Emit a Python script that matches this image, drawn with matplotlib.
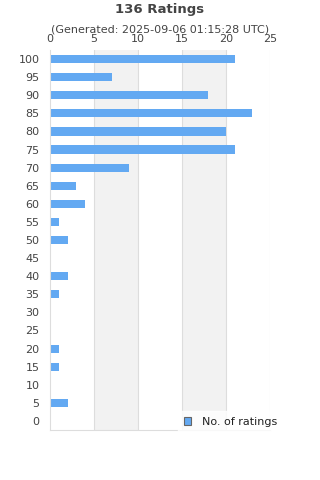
import numpy as np
import matplotlib
matplotlib.use("Agg")
from matplotlib import pyplot as plt
from matplotlib.patches import Patch

ratings = [0, 5, 10, 15, 20, 25, 30, 35, 40, 45, 50, 55, 60, 65, 70, 75, 80, 85, 90, 95, 100]
counts = [0, 2, 0, 1, 1, 0, 0, 1, 2, 0, 2, 1, 4, 3, 9, 21, 20, 23, 18, 7, 21]
x_ticks = [0, 5, 10, 15, 20, 25]

txt = '#444444'
grid_c = '#dddddd'
bar_c = '#63a9f2'

fig = plt.figure(figsize=(3.2, 4.8), dpi=100)
ax = fig.add_axes([50/320, 1-430/480, 220/320, 380/480])

pos = np.arange(len(ratings))
ax.set_xlim(0, 25)
ax.set_ylim(-0.5, len(ratings) - 0.5)

# alternating shaded bands
for i in range(len(x_ticks) - 1):
    if i % 2 == 1:
        ax.axvspan(x_ticks[i], x_ticks[i+1], color='#f2f2f2', zorder=0, lw=0)
for t in x_ticks[1:]:
    ax.axvline(t, color=grid_c, lw=0.8, zorder=1)

ax.barh(pos, counts, height=0.45, color=bar_c, zorder=2)

ax.set_yticks(pos)
ax.set_yticklabels([str(r) for r in ratings])
ax.set_xticks(x_ticks)
ax.xaxis.tick_top()
ax.tick_params(axis='both', length=0, labelsize=8, colors=txt)
ax.tick_params(axis='x', pad=4.5)
ax.tick_params(axis='y', pad=7.5)

for s in ['top', 'right']:
    ax.spines[s].set_visible(False)
ax.spines['left'].set_color(grid_c)
ax.spines['bottom'].set_color(grid_c)

fig.text(0.5, 1-10/480, '136 Ratings', ha='center', va='center',
         fontsize=9.5, fontweight='bold', color=txt)
fig.text(0.5, 1-29/480, '(Generated: 2025-09-06 01:15:28 UTC)', ha='center',
         va='center', fontsize=8, color=txt)

handle = Patch(facecolor=bar_c, edgecolor='#666666', lw=0.8)
leg = fig.legend([handle], ['No. of ratings'], loc='center left',
                 bbox_to_anchor=(178/320, 1-422/480), frameon=True,
                 fontsize=8, handlelength=0.7, handleheight=0.7,
                 borderaxespad=0, borderpad=0.5, handletextpad=1.0)
leg.get_frame().set_facecolor('white')
leg.get_frame().set_edgecolor('white')
leg.get_frame().set_boxstyle('square', pad=0)
for t in leg.get_texts():
    t.set_color('#222222')

plt.savefig('out.png', dpi=100)
